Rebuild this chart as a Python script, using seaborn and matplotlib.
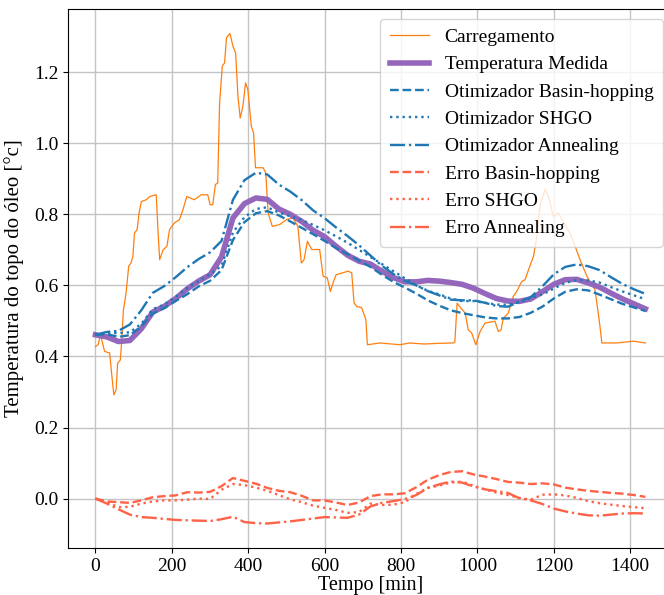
import numpy as np
import pandas as pd
import seaborn as sns
import matplotlib.pyplot as plt

# ---------------------------------------------------------------------------
# Data
# ---------------------------------------------------------------------------

# carregamento (p.u.) - irregular time samples
carga_t = [0, 7, 13, 24, 37, 43, 48, 54, 58, 65,
           69, 73, 80, 87, 93, 98, 102, 109, 114, 120,
           133, 142, 159, 164, 168, 177, 187, 194, 207, 220,
           229, 239, 259, 277, 294, 300, 307, 314, 320, 325,
           332, 338, 343, 352, 360, 367, 373, 379, 386, 393,
           399, 408, 414, 419, 439, 446, 452, 463, 482, 500,
           517, 530, 539, 546, 555, 566, 587, 596, 607, 615,
           622, 630, 662, 671, 677, 684, 697, 708, 712, 745,
           797, 823, 860, 900, 937, 941, 947, 954, 968, 976,
           985, 996, 1007, 1020, 1046, 1055, 1062, 1068, 1081, 1094,
           1103, 1116, 1125, 1134, 1147, 1156, 1164, 1177, 1186, 1199,
           1212, 1225, 1243, 1256, 1269, 1287, 1308, 1320, 1326, 1365,
           1409, 1440]
carga = [0.428, 0.433, 0.461, 0.414, 0.41, 0.344, 0.292, 0.306, 0.381, 0.39,
         0.447, 0.53, 0.578, 0.654, 0.663, 0.682, 0.747, 0.757, 0.803, 0.836,
         0.841, 0.85, 0.855, 0.747, 0.672, 0.70, 0.71, 0.757, 0.776, 0.785,
         0.813, 0.85, 0.841, 0.855, 0.855, 0.827, 0.827, 0.884, 0.888, 1.113,
         1.217, 1.226, 1.297, 1.309, 1.273, 1.254, 1.132, 1.071, 1.104, 1.17,
         1.151, 1.048, 1.029, 0.931, 0.931, 0.916, 0.804, 0.766, 0.771, 0.785,
         0.79, 0.766, 0.663, 0.672, 0.724, 0.701, 0.701, 0.626, 0.621, 0.583,
         0.607, 0.63, 0.64, 0.635, 0.551, 0.541, 0.537, 0.504, 0.433, 0.438,
         0.433, 0.438, 0.435, 0.437, 0.438, 0.441, 0.55, 0.54, 0.522, 0.475,
         0.466, 0.433, 0.470, 0.494, 0.499, 0.470, 0.475, 0.508, 0.522, 0.569,
         0.583, 0.611, 0.616, 0.644, 0.682, 0.738, 0.823, 0.870, 0.851, 0.794,
         0.804, 0.780, 0.747, 0.710, 0.672, 0.625, 0.588, 0.494, 0.438, 0.438,
         0.443, 0.438]

# common 30 min grid for temperature / model / error series
tempo = np.arange(0, 1441, 30)

medida = [0.461, 0.455, 0.442, 0.445, 0.478, 0.525, 0.541, 0.563, 0.590, 0.612,
          0.630, 0.680, 0.790, 0.830, 0.846, 0.842, 0.815, 0.800, 0.780, 0.755,
          0.737, 0.710, 0.685, 0.668, 0.660, 0.640, 0.622, 0.610, 0.610, 0.614,
          0.612, 0.608, 0.603, 0.592, 0.577, 0.563, 0.556, 0.555, 0.562, 0.582,
          0.603, 0.616, 0.617, 0.607, 0.595, 0.578, 0.562, 0.548, 0.534]

otm_basin = [0.461, 0.463, 0.455, 0.460, 0.485, 0.521, 0.536, 0.556, 0.575, 0.597,
             0.613, 0.643, 0.728, 0.778, 0.803, 0.809, 0.797, 0.780, 0.762, 0.744,
             0.725, 0.705, 0.688, 0.670, 0.652, 0.630, 0.610, 0.594, 0.577, 0.558,
             0.543, 0.530, 0.522, 0.516, 0.510, 0.507, 0.507, 0.511, 0.523, 0.540,
             0.563, 0.582, 0.589, 0.586, 0.574, 0.561, 0.548, 0.538, 0.528]

otm_shgo = [0.461, 0.465, 0.466, 0.468, 0.492, 0.533, 0.546, 0.568, 0.593, 0.612,
            0.631, 0.655, 0.749, 0.792, 0.815, 0.820, 0.805, 0.795, 0.784, 0.770,
            0.755, 0.738, 0.720, 0.700, 0.680, 0.660, 0.640, 0.620, 0.600, 0.585,
            0.575, 0.563, 0.556, 0.556, 0.551, 0.546, 0.546, 0.553, 0.565, 0.574,
            0.591, 0.607, 0.615, 0.614, 0.608, 0.595, 0.583, 0.572, 0.561]

otm_anneal = [0.461, 0.469, 0.472, 0.490, 0.530, 0.579, 0.598, 0.623, 0.651, 0.674,
              0.693, 0.725, 0.841, 0.896, 0.917, 0.912, 0.884, 0.864, 0.840, 0.811,
              0.789, 0.763, 0.739, 0.713, 0.684, 0.655, 0.632, 0.613, 0.600, 0.584,
              0.572, 0.560, 0.558, 0.558, 0.551, 0.542, 0.540, 0.554, 0.567, 0.597,
              0.631, 0.652, 0.659, 0.654, 0.643, 0.623, 0.604, 0.589, 0.576]

erro_basin = [0.0, -0.008, -0.010, -0.012, -0.005, 0.004, 0.007, 0.009, 0.018, 0.017,
              0.019, 0.035, 0.058, 0.050, 0.042, 0.030, 0.022, 0.018, 0.008, -0.005,
              -0.005, -0.011, -0.018, -0.011, 0.007, 0.012, 0.012, 0.015, 0.032, 0.053,
              0.066, 0.075, 0.077, 0.068, 0.062, 0.055, 0.047, 0.045, 0.041, 0.043,
              0.040, 0.031, 0.026, 0.022, 0.019, 0.016, 0.014, 0.010, 0.005]

erro_shgo = [0.0, -0.010, -0.024, -0.023, -0.014, -0.008, -0.005, -0.005, -0.003, 0.000,
             -0.001, 0.025, 0.041, 0.038, 0.031, 0.022, 0.010, -0.002, -0.010, -0.020,
             -0.026, -0.032, -0.040, -0.038, -0.014, -0.018, -0.017, -0.010, 0.013, 0.030,
             0.037, 0.045, 0.048, 0.036, 0.026, 0.017, 0.010, 0.002, -0.003, 0.011,
             0.012, 0.009, 0.002, -0.007, -0.013, -0.017, -0.021, -0.024, -0.027]

erro_anneal = [0.0, -0.014, -0.030, -0.045, -0.052, -0.054, -0.057, -0.060, -0.061, -0.062,
               -0.063, -0.058, -0.051, -0.066, -0.069, -0.070, -0.067, -0.064, -0.060, -0.056,
               -0.052, -0.053, -0.054, -0.045, -0.022, -0.012, -0.007, -0.001, 0.010, 0.030,
               0.040, 0.048, 0.045, 0.034, 0.026, 0.021, 0.016, 0.001, -0.005, -0.015,
               -0.028, -0.036, -0.042, -0.047, -0.048, -0.045, -0.042, -0.041, -0.042]

# ---------------------------------------------------------------------------
# Style
# ---------------------------------------------------------------------------

plt.rcParams['font.family'] = ['Liberation Serif', 'DejaVu Serif']

BLUE = '#1f77b4'
RED = '#ff6347'

series = [
    ('Otimizador Basin-hopping', otm_basin, BLUE, '--'),
    ('Otimizador SHGO', otm_shgo, BLUE, ':'),
    ('Otimizador Annealing', otm_anneal, BLUE, '-.'),
    ('Erro Basin-hopping', erro_basin, RED, '--'),
    ('Erro SHGO', erro_shgo, RED, ':'),
    ('Erro Annealing', erro_anneal, RED, '-.'),
]

# ---------------------------------------------------------------------------
# Plot
# ---------------------------------------------------------------------------

fig = plt.figure(figsize=(6.64, 5.95), dpi=100)
ax = fig.add_axes([0.1024, 0.079, 0.911, 0.906])

sns.lineplot(x=carga_t, y=carga, ax=ax, color='#ff7f0e', linewidth=0.9,
             label='Carregamento')
sns.lineplot(x=tempo, y=medida, ax=ax, color='#9467bd', linewidth=4,
             label='Temperatura Medida')
for name, vals, col, ls in series:
    sns.lineplot(x=tempo, y=vals, ax=ax, color=col, linestyle=ls,
                 linewidth=1.7, label=name)

ax.grid(True, color='#c4c4c4', linewidth=1)
ax.set_axisbelow(True)
ax.set_xticks(range(0, 1401, 200))
ax.set_yticks(np.arange(0, 1.21, 0.2))
ax.yaxis.set_major_formatter(plt.FuncFormatter(lambda v, _: f'{v:.1f}'))
ax.tick_params(labelsize=14)
ax.set_xlabel('Tempo [min]', fontsize=14.5, labelpad=1)
ax.set_ylabel('Temperatura do topo do óleo [°c]', fontsize=15, labelpad=7)

ax.legend(loc='upper right', fontsize=14, handlelength=2.0,
          borderpad=0.5, labelspacing=0.5)

fig.savefig('out.png', dpi=100)
